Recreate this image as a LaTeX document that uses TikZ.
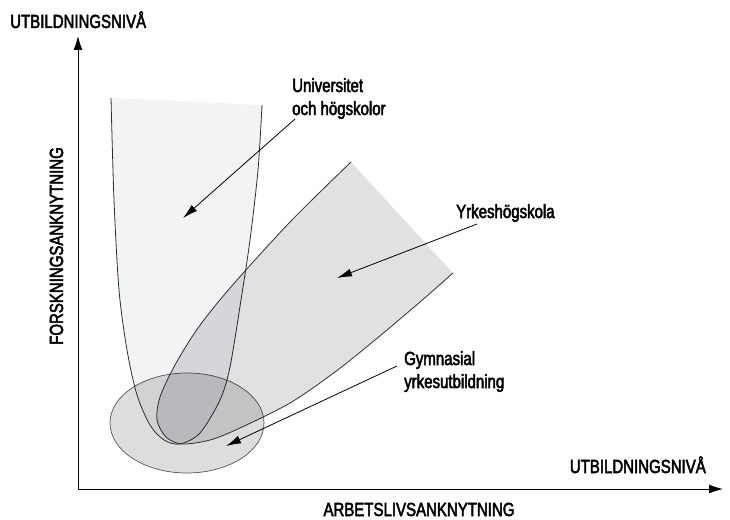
\documentclass[tikz,border=0pt]{standalone}
\usepackage{fontspec}
\setmainfont[FakeStretch=0.79,FakeBold=2.6]{Liberation Sans}
\usetikzlibrary{arrows.meta}
\definecolor{ufill}{HTML}{F2F3F5}
\definecolor{yfill}{HTML}{E0E1E3}
\definecolor{efill}{HTML}{DDDDDD}
\definecolor{edgec}{HTML}{2E2E2E}
\definecolor{eedge}{HTML}{555555}
\begin{document}
\begin{tikzpicture}[x=1pt,y=-1pt,
  lbl/.style={font=\fontsize{19}{23}\selectfont, inner sep=0pt, align=left, text=black},
  axis/.style={line width=1pt, black, -{Latex[length=14pt,width=9pt]}},
  pointer/.style={line width=0.8pt, black, -{Latex[length=15pt,width=8pt]}},
  shapeedge/.style={line width=0.8pt, edgec},
]
\useasboundingbox (0,0) rectangle (730,519);

% Gymnasial ellipse
\coordinate (ec) at (187,423);
\fill[efill] (ec) ellipse [x radius=77, y radius=50];
\draw[eedge, line width=0.7pt] (ec) ellipse [x radius=77, y radius=50];

% Universitet U shape
\fill[ufill, blend mode=multiply] plot[smooth] coordinates {(111,98) (114,200) (119,290) (127,350) (137,395) (150,425) (164,440) (180,444) (200,433) (220,400) (230,367) (241,300) (250,240) (258,170) (262,105)} -- cycle;
\draw[shapeedge] plot[smooth] coordinates {(111,98) (114,200) (119,290) (127,350) (137,395) (150,425) (164,440) (180,444) (200,433) (220,400) (230,367) (241,300) (250,240) (258,170) (262,105)};

% Yrkeshogskola shape
\fill[yfill, blend mode=multiply] plot[smooth] coordinates {(351,162) (290,222) (230,288) (198,328) (175,365) (160,397) (157,420) (166,437) (182,444) (210,440) (240,428) (290,403) (335,372) (375,340) (420,302) (453,273)} -- cycle;
\draw[shapeedge] plot[smooth] coordinates {(351,162) (290,222) (230,288) (198,328) (175,365) (160,397) (157,420) (166,437) (182,444) (210,440) (240,428) (290,403) (335,372) (375,340) (420,302) (453,273)};

% axes
\coordinate (o) at (78,489);
\coordinate (ytop) at (78,36);
\coordinate (xend) at (723,489);
\draw[axis] (o) -- (ytop);
\draw[axis] (o) -- (xend);

% axis labels
\node[lbl, anchor=base west] (ylab) at (10,28) {UTBILDNINGSNIVÅ};
\node[lbl, anchor=base, rotate=90] (yname) at (63,246) {FORSKNINGSANKNYTNING};
\node[lbl, anchor=base east] (xlab) at (706,473) {UTBILDNINGSNIVÅ};
\node[lbl, anchor=base] (xname) at (419,516) {ARBETSLIVSANKNYTNING};

% region labels (base = last line)
\node[lbl, anchor=base west] (ulab) at (292,115) {Universitet\\och högskolor};
\node[lbl, anchor=base west] (ylab2) at (456,218) {Yrkeshögskola};
\node[lbl, anchor=base west] (glab) at (404,388) {Gymnasial\\yrkesutbildning};

% pointers
\coordinate (uStart) at (295,119);
\coordinate (uTip) at (183,218);
\coordinate (yStart) at (477,224);
\coordinate (yTip) at (337,278);
\coordinate (gStart) at (397,366);
\coordinate (gTip) at (226,446);
\draw[pointer] (uStart) -- (uTip);
\draw[pointer] (yStart) -- (yTip);
\draw[pointer] (gStart) -- (gTip);
\end{tikzpicture}
\end{document}
